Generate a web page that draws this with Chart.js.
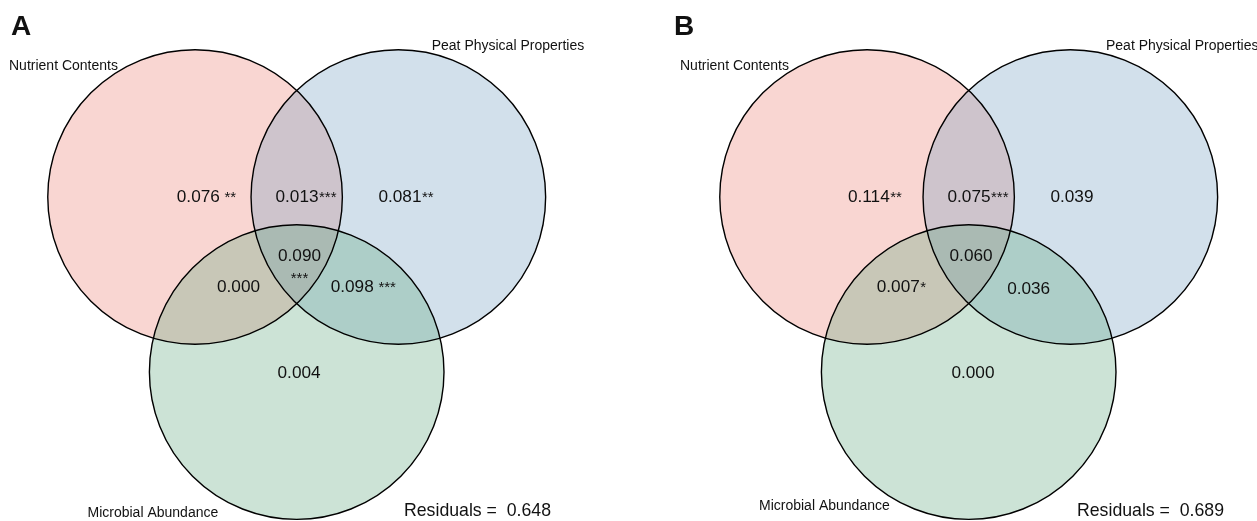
<!DOCTYPE html>
<html>
<head>
<meta charset="utf-8">
<script src="https://cdn.jsdelivr.net/npm/chart.js@4/dist/chart.umd.min.js"></script>
<style>
  html, body { margin: 0; padding: 0; background: #ffffff; }
  #wrap { position: relative; width: 1257px; height: 521px; overflow: hidden; }
  #wrap canvas { position: absolute; top: 0; }
</style>
</head>
<body>
<div id="wrap">
  <canvas id="panelA" width="672" height="521" style="left:0px"></canvas>
  <canvas id="panelB" width="585" height="521" style="left:672px"></canvas>
</div>
<script>
// Variance partitioning of three explanatory sets (Venn diagram per panel)
const setNames = ['Nutrient Contents', 'Peat Physical Properties', 'Microbial Abundance'];

// Circle geometry in Venn units (unit radius, centroid at origin)
const circleX = [-0.690, 0.690, 0.0];
const circleY = [0.3965, 0.3965, -0.792];
const circleR = [1, 1, 1];

// Region order: N only, N∩P, P only, N∩M, N∩P∩M, P∩M, M only
const fractionsA = [0.076, 0.013, 0.081, 0.000, 0.090, 0.098, 0.004];
const signifA    = [' **', '***', '**', '', '***', ' ***', ''];
const fractionsB = [0.114, 0.075, 0.039, 0.007, 0.060, 0.036, 0.000];
const signifB    = ['**', '***', '', '*', '', '', ''];
const residuals  = [0.648, 0.689];
const panelLetters = ['A', 'B'];

// ---- styling / layout ----
const FONT = '"Liberation Sans", Arial, Helvetica, sans-serif';
const PX_PER_UNIT = 147.3;
const ORIGIN = { x: 296.7, y: 255.4 };
const setColors = ['rgba(235,118,105,0.3)', 'rgba(105,152,188,0.3)', 'rgba(85,162,118,0.3)'];

// label anchor points (Venn units) for the seven regions, per panel
const regionPosA = [[-0.668, 0.396], [0.002, 0.396], [0.701, 0.396], [-0.395, -0.215], [0.019, -0.004], [0.377, -0.215], [0.016, -0.799]];
const regionPosB = [[-0.678, 0.396], [0.002, 0.396], [0.701, 0.396], [-0.478, -0.215], [0.016, -0.004], [0.407, -0.228], [0.029, -0.799]];

// annotation anchors in canvas pixels, per panel
const annotA = { letter: [11, 35], names: [[9, 66], [431.7, 45.7], [87.5, 513]], resid: [404, 511] };
const annotB = { letter: [2, 35],  names: [[8, 66], [434, 45.7], [87, 506]],   resid: [405, 511] };

function makePanel(id, fractions, signif, residual, letter, regionPos, annot) {
  const canvas = document.getElementById(id);
  const W = canvas.width, H = canvas.height;
  const circles = () => circleX.map((x, i) => ({ x: x, y: circleY[i], rad: circleR[i] }));
  // circle radius follows the x scale so it stays in Venn units
  const radiusPx = (c) => {
    const s = c.chart.scales.x;
    const r = (c.raw && c.raw.rad) || 1;
    const v = Math.abs(s.getPixelForValue(r) - s.getPixelForValue(0));
    return isFinite(v) ? v : 0;
  };

  const textPlugin = {
    id: 'vennText',
    afterDatasetsDraw(chart) {
      const ctx = chart.ctx;
      const xs = chart.scales.x, ys = chart.scales.y;
      ctx.save();
      ctx.fillStyle = '#111111';

      // region fractions
      fractions.forEach((v, i) => {
        const px = xs.getPixelForValue(regionPos[i][0]);
        const py = ys.getPixelForValue(regionPos[i][1]);
        const txt = v.toFixed(3);
        ctx.font = '17.2px ' + FONT;
        ctx.textAlign = 'center';
        ctx.textBaseline = 'middle';
        ctx.fillText(txt, px, py);
        const s = signif[i];
        if (!s) return;
        const w = ctx.measureText(txt).width;
        ctx.font = '15px ' + FONT;
        ctx.textBaseline = 'alphabetic';
        if (i === 4) {
          ctx.textAlign = 'center';
          ctx.fillText(s.trim(), px, py + 26.6);
        } else {
          ctx.textAlign = 'left';
          ctx.fillText(s, px + w / 2 + 0.5, py + 4.5);
        }
      });

      // set names
      ctx.font = '14px ' + FONT;
      ctx.textAlign = 'left';
      ctx.textBaseline = 'middle';
      setNames.forEach((n, i) => ctx.fillText(n, annot.names[i][0], annot.names[i][1]));

      // residuals
      ctx.font = '17.7px ' + FONT;
      ctx.fillText('Residuals =  ' + residual.toFixed(3), annot.resid[0], annot.resid[1]);

      // panel letter
      ctx.font = 'bold 28px ' + FONT;
      ctx.textBaseline = 'alphabetic';
      ctx.fillText(letter, annot.letter[0], annot.letter[1]);
      ctx.restore();
    }
  };

  return new Chart(canvas, {
    type: 'scatter',
    data: {
      datasets: [
        { label: 'outline', data: circles(), showLine: false,
          pointBackgroundColor: 'rgba(0,0,0,0)', pointBorderColor: '#000000',
          pointBorderWidth: 1.4, pointHoverBorderWidth: 1.4,
          pointRadius: radiusPx, pointHoverRadius: radiusPx },
        { label: 'fill', data: circles(), showLine: false,
          pointBackgroundColor: setColors, pointHoverBackgroundColor: setColors,
          pointBorderWidth: 0, pointHoverBorderWidth: 0,
          pointRadius: radiusPx, pointHoverRadius: radiusPx }
      ]
    },
    options: {
      responsive: false,
      animation: false,
      events: [],
      layout: { padding: 0 },
      plugins: { legend: { display: false }, tooltip: { enabled: false } },
      scales: {
        x: { type: 'linear', display: false, min: -ORIGIN.x / PX_PER_UNIT, max: (W - ORIGIN.x) / PX_PER_UNIT },
        y: { type: 'linear', display: false, min: -(H - ORIGIN.y) / PX_PER_UNIT, max: ORIGIN.y / PX_PER_UNIT }
      }
    },
    plugins: [textPlugin]
  });
}

makePanel('panelA', fractionsA, signifA, residuals[0], panelLetters[0], regionPosA, annotA);
makePanel('panelB', fractionsB, signifB, residuals[1], panelLetters[1], regionPosB, annotB);
</script>
</body>
</html>
